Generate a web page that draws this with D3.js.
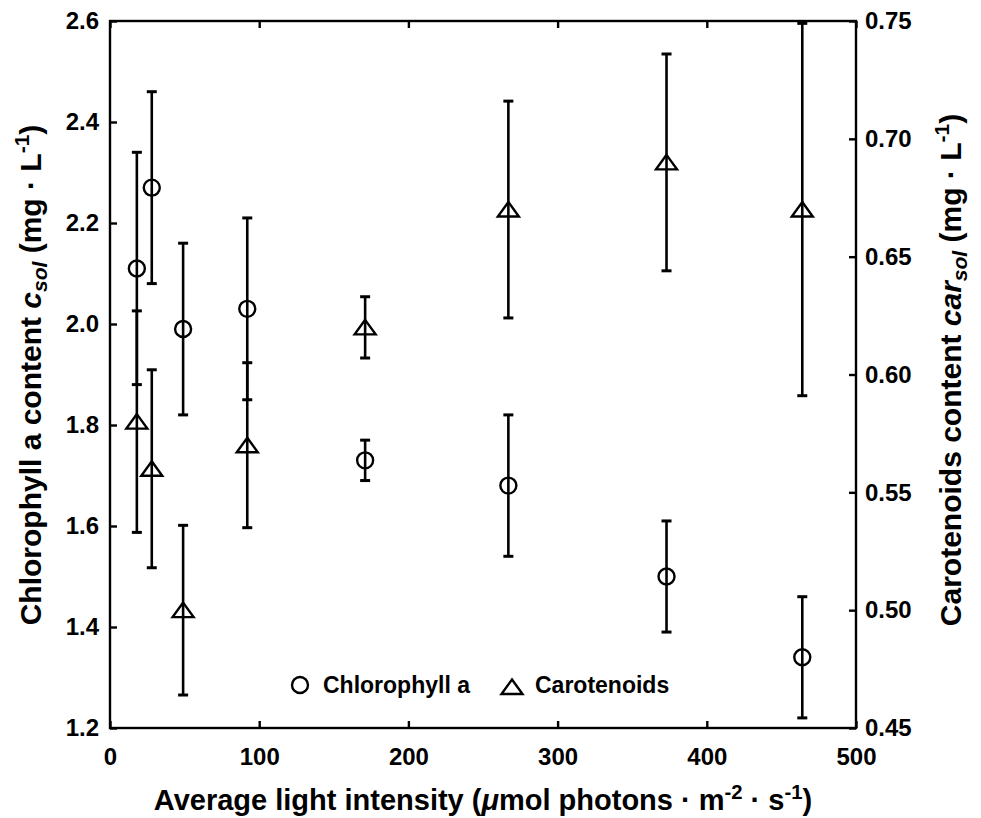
<!DOCTYPE html>
<html>
<head>
<meta charset="utf-8">
<script src="https://cdn.jsdelivr.net/npm/d3@7"></script>
<style>
  html, body { margin: 0; padding: 0; background: #fff; }
  svg { display: block; }
  text { font-family: "Liberation Sans", Arial, Helvetica, sans-serif; font-weight: bold; fill: #000; }
</style>
</head>
<body>
<svg id="chart" width="981" height="818"></svg>
<script>
// Average light intensity (µmol photons · m^-2 · s^-1)
const lightIntensity = [18, 28, 49, 92, 171, 267, 373, 464];
// Chlorophyll a content (mg/L) with standard deviation
const chlorophyll   = [2.11, 2.27, 1.99, 2.03, 1.73, 1.68, 1.50, 1.34];
const chlorophyllSd = [0.23, 0.19, 0.17, 0.18, 0.04, 0.14, 0.11, 0.12];
// Carotenoids content (mg/L) with standard deviation
const carotenoids   = [0.58, 0.56, 0.50, 0.57, 0.62, 0.67, 0.69, 0.67];
const carotenoidsSd = [0.047, 0.042, 0.036, 0.035, 0.013, 0.046, 0.046, 0.079];

const xTicks = [0, 100, 200, 300, 400, 500];
const yLeftTicks = [1.2, 1.4, 1.6, 1.8, 2.0, 2.2, 2.4, 2.6];
const yRightTicks = [0.45, 0.50, 0.55, 0.60, 0.65, 0.70, 0.75];
const legendLabels = ["Chlorophyll a", "Carotenoids"];

const W = 981, H = 818;
const margin = { left: 110, top: 21, right: 125, bottom: 90 };
const iw = W - margin.left - margin.right;
const ih = H - margin.top - margin.bottom;

const svg = d3.select("#chart");
const g = svg.append("g").attr("transform", `translate(${margin.left},${margin.top})`);

const x = d3.scaleLinear().domain([0, 500]).range([0, iw]);
const yL = d3.scaleLinear().domain([1.2, 2.6]).range([ih, 0]);
const yR = d3.scaleLinear().domain([0.45, 0.75]).range([ih, 0]);

const AX_W = 2.4, TICK = 7, TICK_FS = 24;

function styleAxis(sel, fs) {
  sel.select(".domain").remove();
  sel.selectAll(".tick line").attr("stroke", "#000").attr("stroke-width", AX_W);
  sel.selectAll(".tick text").style("font-size", fs + "px");
}

// bottom axis
g.append("g").attr("transform", `translate(0,${ih})`)
  .call(d3.axisBottom(x).tickValues(xTicks).tickFormat(d3.format("d")).tickSize(-TICK).tickPadding(20))
  .call(s => styleAxis(s, TICK_FS));
// top ticks (no labels)
g.append("g")
  .call(d3.axisTop(x).tickValues(xTicks).tickFormat("").tickSize(-TICK))
  .call(s => styleAxis(s, TICK_FS));
// left axis
g.append("g")
  .call(d3.axisLeft(yL).tickValues(yLeftTicks).tickFormat(d3.format(".1f")).tickSize(-TICK).tickPadding(11))
  .call(s => styleAxis(s, TICK_FS));
// right axis
g.append("g").attr("transform", `translate(${iw},0)`)
  .call(d3.axisRight(yR).tickValues(yRightTicks).tickFormat(d3.format(".2f")).tickSize(-TICK).tickPadding(9))
  .call(s => styleAxis(s, TICK_FS));

// frame
g.append("rect").attr("x", 0).attr("y", 0).attr("width", iw).attr("height", ih)
  .attr("fill", "none").attr("stroke", "#000").attr("stroke-width", AX_W);

// error bars
const CAP = 5, BAR_W = 2.6;
function errorBars(values, sds, yScale, cls) {
  const grp = g.append("g").attr("class", cls);
  const data = lightIntensity.map((xv, i) => ({ x: xv, v: values[i], sd: sds[i] }));
  const eb = grp.selectAll("g").data(data).join("g");
  eb.append("line")
    .attr("x1", d => x(d.x)).attr("x2", d => x(d.x))
    .attr("y1", d => yScale(d.v + d.sd)).attr("y2", d => yScale(d.v - d.sd))
    .attr("stroke", "#000").attr("stroke-width", BAR_W);
  [1, -1].forEach(sgn => {
    eb.append("line")
      .attr("x1", d => x(d.x) - CAP).attr("x2", d => x(d.x) + CAP)
      .attr("y1", d => yScale(d.v + sgn * d.sd)).attr("y2", d => yScale(d.v + sgn * d.sd))
      .attr("stroke", "#000").attr("stroke-width", 3);
  });
  return { grp, data };
}

const chl = errorBars(chlorophyll, chlorophyllSd, yL, "chl");
const car = errorBars(carotenoids, carotenoidsSd, yR, "car");

const MK_W = 2.4;
const triPath = "M0,-7.5 L10.5,7 L-10.5,7 Z";

chl.grp.selectAll("circle").data(chl.data).join("circle")
  .attr("cx", d => x(d.x)).attr("cy", d => yL(d.v)).attr("r", 8)
  .attr("fill", "none").attr("stroke", "#000").attr("stroke-width", MK_W);

car.grp.selectAll("path.mk").data(car.data).join("path").attr("class", "mk")
  .attr("d", triPath)
  .attr("transform", d => `translate(${x(d.x)},${yR(d.v)})`)
  .attr("fill", "none").attr("stroke", "#000").attr("stroke-width", MK_W).attr("stroke-linejoin", "miter");

// legend
const lg = svg.append("g");
lg.append("circle").attr("cx", 300).attr("cy", 685).attr("r", 8)
  .attr("fill", "none").attr("stroke", "#000").attr("stroke-width", MK_W);
lg.append("text").attr("x", 323).attr("y", 693).style("font-size", "23px").text(legendLabels[0]);
lg.append("path").attr("d", triPath).attr("transform", "translate(512,687)")
  .attr("fill", "none").attr("stroke", "#000").attr("stroke-width", MK_W);
lg.append("text").attr("x", 535).attr("y", 693).style("font-size", "23px").text(legendLabels[1]);

// axis titles
function addParts(t, parts, fs) {
  parts.forEach(p => {
    const ts = t.append("tspan").text(p.t);
    if (p.it) ts.style("font-style", "italic");
    if (p.sub) ts.style("font-size", (fs * 0.7) + "px").attr("dy", p.sub > 0 ? "0.3em" : "-0.55em");
    if (p.back) ts.attr("dy", p.back);
  });
}

const XT_FS = 29;
const xt = svg.append("text").attr("x", margin.left + iw / 2).attr("y", 810)
  .attr("text-anchor", "middle").style("font-size", XT_FS + "px");
addParts(xt, [
  { t: "Average light intensity (" },
  { t: "\u03BC", it: true },
  { t: "mol photons \u00B7 m" },
  { t: "-2", sub: -1 },
  { t: " \u00B7 s", back: "0.385em" },
  { t: "-1", sub: -1 },
  { t: ")", back: "0.385em" }
], XT_FS);

const YT_FS = 30;
const ylt = svg.append("text").attr("transform", `translate(41,375) rotate(-90)`)
  .attr("text-anchor", "middle").style("font-size", YT_FS + "px");
addParts(ylt, [
  { t: "Chlorophyll a content " },
  { t: "c", it: true },
  { t: "sol", it: true, sub: 1 },
  { t: " (mg \u00B7 L", back: "-0.21em" },
  { t: "-1", sub: -1 },
  { t: ")", back: "0.385em" }
], YT_FS);

const yrt = svg.append("text").attr("transform", `translate(961,370) rotate(-90)`)
  .attr("text-anchor", "middle").style("font-size", YT_FS + "px");
addParts(yrt, [
  { t: "Carotenoids content " },
  { t: "car", it: true },
  { t: "sol", it: true, sub: 1 },
  { t: " (mg \u00B7 L", back: "-0.21em" },
  { t: "-1", sub: -1 },
  { t: ")", back: "0.385em" }
], YT_FS);
</script>
</body>
</html>
